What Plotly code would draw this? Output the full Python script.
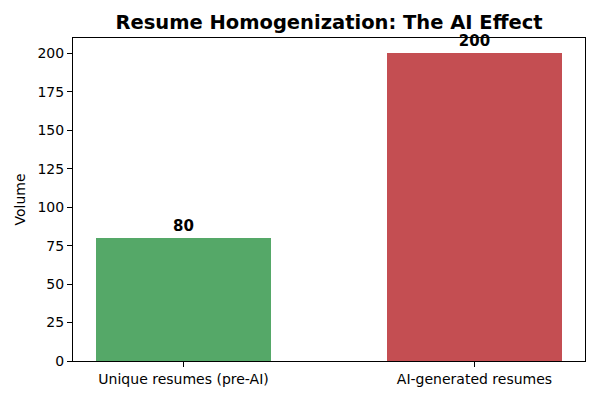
import plotly.graph_objects as go

categories = ["Unique resumes (pre-AI)", "AI-generated resumes"]
volumes = [80, 200]
bar_colors = ["#55a868", "#c44e52"]

fig = go.Figure()
fig.add_trace(go.Bar(
    x=categories,
    y=volumes,
    width=0.6,
    marker=dict(color=bar_colors, line=dict(width=0)),
    text=[str(v) for v in volumes],
    textposition="outside",
    textfont=dict(family="DejaVu Sans", size=15, color="black", weight="bold"),
    cliponaxis=False,
))

# page body adds 8px, so the figure is 592x392 and margins are shifted
fig.update_layout(
    width=592,
    height=392,
    margin=dict(l=62, r=15, t=30, b=39),
    paper_bgcolor="white",
    plot_bgcolor="white",
    font=dict(family="DejaVu Sans", size=14, color="black"),
    title=dict(
        text="<b>Resume Homogenization: The AI Effect</b>",
        xref="paper", x=0.5, xanchor="center",
        yref="container", y=1 - 14 / 392, yanchor="middle",
        font=dict(size=19.5, color="black"),
    ),
    showlegend=False,
    bargap=0,
)
fig.update_xaxes(
    range=[-0.38, 1.38],
    showline=True, mirror=True, linecolor="black", linewidth=1,
    ticks="outside", ticklen=5, tickcolor="black",
    showgrid=False, tickfont=dict(size=14),
)
fig.update_yaxes(
    range=[0, 210],
    tickvals=list(range(0, 201, 25)),
    showline=True, mirror=True, linecolor="black", linewidth=1,
    ticks="outside", ticklen=5, tickcolor="black",
    showgrid=False, zeroline=False, tickfont=dict(size=14),
    title=dict(text="Volume", font=dict(size=14), standoff=8),
)

fig.write_html("out.html")
